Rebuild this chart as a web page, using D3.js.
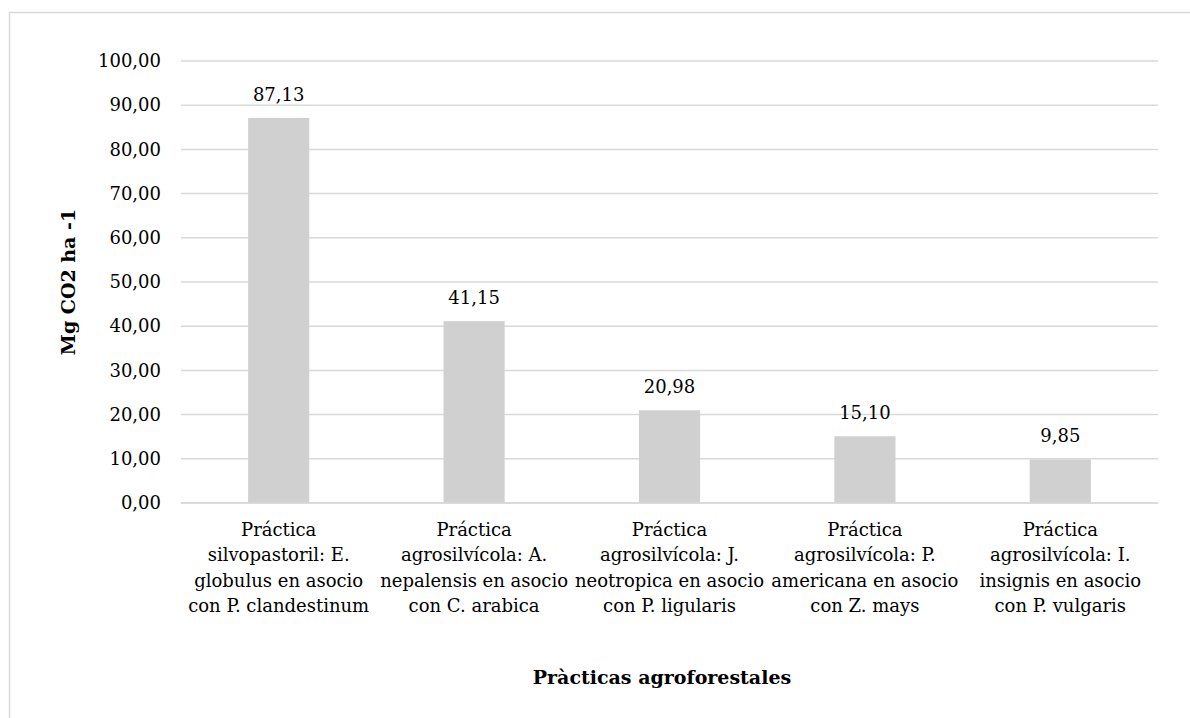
<!DOCTYPE html>
<html>
<head>
<meta charset="utf-8">
<script src="https://cdn.jsdelivr.net/npm/d3@7"></script>
<style>
  html, body { margin: 0; padding: 0; background: #fff; }
  svg { display: block; }
  .serif { font-family: 'DejaVu Serif'; }
</style>
</head>
<body>
<svg id="chart" width="1190" height="718"></svg>
<script>
// Carbon storage per agroforestry practice (Mg CO2 ha-1)
const categories = [
  ["Práctica", "silvopastoril: E.", "globulus en asocio", "con P. clandestinum"],
  ["Práctica", "agrosilvícola: A.", "nepalensis en asocio", "con C. arabica"],
  ["Práctica", "agrosilvícola: J.", "neotropica en asocio", "con P. ligularis"],
  ["Práctica", "agrosilvícola: P.", "americana en asocio", "con Z. mays"],
  ["Práctica", "agrosilvícola: I.", "insignis en asocio", "con P. vulgaris"]
];
const values = [87.13, 41.15, 20.98, 15.10, 9.85];
const yTicks = [0, 10, 20, 30, 40, 50, 60, 70, 80, 90, 100];
const yTitle = "Mg CO2 ha -1";
const xTitle = "Pràcticas agroforestales";

const FS = 18;      // regular text size
const FS_BOLD = 19; // axis titles

const svg = d3.select("#chart").attr("class", "serif");

// outer chart frame
svg.append("rect")
  .attr("x", 9.5).attr("y", 12.5)
  .attr("width", 1200).attr("height", 760)
  .attr("fill", "#fff").attr("stroke", "#d9d9d9").attr("stroke-width", 1.5);

const plot = { left: 181, right: 1158, top: 61, bottom: 503 };

const fmt = v => d3.format(".2f")(v).replace(".", ",");

const x = d3.scaleBand()
  .domain(d3.range(categories.length))
  .range([plot.left, plot.right])
  .padding(0);

const y = d3.scaleLinear()
  .domain([0, 100])
  .range([plot.bottom, plot.top]);

// gridlines
svg.append("g")
  .selectAll("line")
  .data(yTicks)
  .join("line")
  .attr("x1", plot.left).attr("x2", plot.right)
  .attr("y1", d => y(d)).attr("y2", d => y(d))
  .attr("stroke", "#d9d9d9").attr("stroke-width", 1.5);

// y axis labels
const yAxis = d3.axisLeft(y).tickValues(yTicks).tickFormat(fmt).tickSize(0).tickPadding(20);
const gy = svg.append("g").attr("transform", `translate(${plot.left},0)`).call(yAxis);
gy.attr("font-family", null).attr("font-size", FS);
gy.select(".domain").remove();
gy.selectAll("text").attr("fill", "#000");

// bars
const barFrac = 0.313;
const bw = x.bandwidth() * barFrac;
svg.append("g")
  .selectAll("rect")
  .data(values)
  .join("rect")
  .attr("x", (d, i) => x(i) + (x.bandwidth() - bw) / 2)
  .attr("y", d => y(d))
  .attr("width", bw)
  .attr("height", d => y(0) - y(d))
  .attr("fill", "#d0d0d0");

// baseline redrawn over bars
svg.append("line")
  .attr("x1", plot.left).attr("x2", plot.right)
  .attr("y1", y(0)).attr("y2", y(0))
  .attr("stroke", "#d9d9d9").attr("stroke-width", 1.5);

// value labels
svg.append("g")
  .attr("font-size", FS)
  .selectAll("text")
  .data(values)
  .join("text")
  .attr("x", (d, i) => x(i) + x.bandwidth() / 2)
  .attr("y", d => y(d) - 17)
  .attr("text-anchor", "middle")
  .text(d => fmt(d));

// category labels, one tspan per line
const cat = svg.append("g")
  .attr("font-size", FS)
  .selectAll("text")
  .data(categories)
  .join("text")
  .attr("text-anchor", "middle");
cat.selectAll("tspan")
  .data((d, i) => d.map(s => ({ s, i })))
  .join("tspan")
  .attr("x", d => x(d.i) + x.bandwidth() / 2)
  .attr("y", (d, j) => 536 + j * 25.3)
  .text(d => d.s);

// axis titles
svg.append("text")
  .attr("transform", `translate(75,282) rotate(-90)`)
  .attr("text-anchor", "middle")
  .attr("font-size", FS_BOLD).attr("font-weight", "bold")
  .text(yTitle);

svg.append("text")
  .attr("x", 662)
  .attr("y", 684)
  .attr("text-anchor", "middle")
  .attr("font-size", FS_BOLD).attr("font-weight", "bold")
  .text(xTitle);
</script>
</body>
</html>
